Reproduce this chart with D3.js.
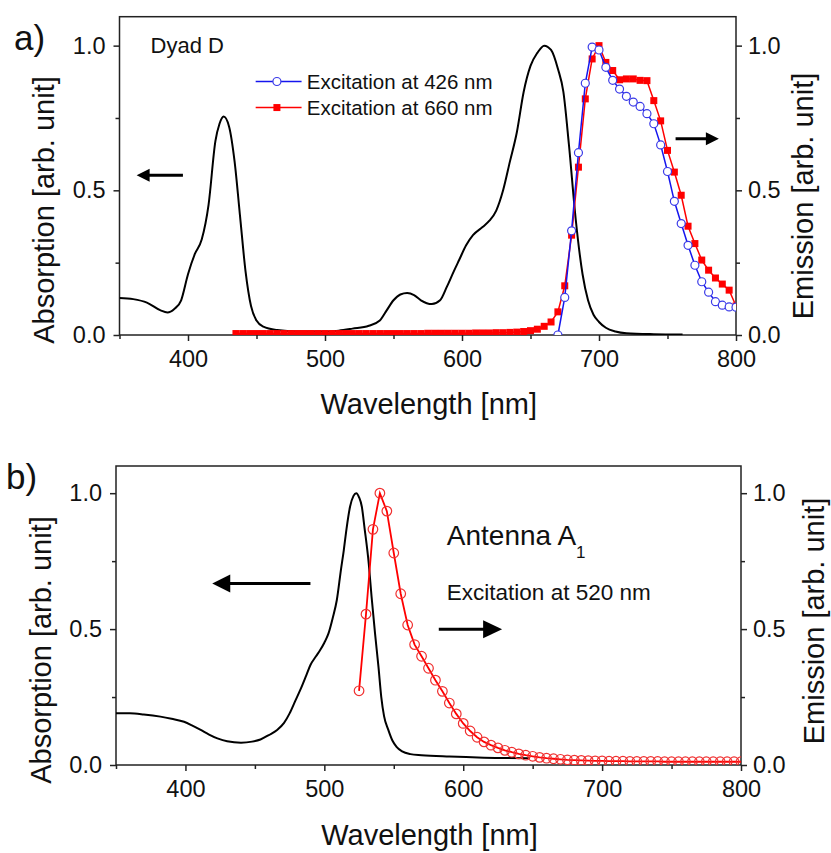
<!DOCTYPE html>
<html>
<head>
<meta charset="utf-8">
<script src="https://cdn.jsdelivr.net/npm/d3@7"></script>
<style>
  body { margin: 0; background: #fff; }
  text { font-family: "Liberation Sans", Arial, sans-serif; fill: #111; }
</style>
</head>
<body>
<script>
// ---- data ----
const xTicks = [400, 500, 600, 700, 800];
const xMinor = [350, 450, 550, 650, 750];
const yTicks = [0.0, 0.5, 1.0];
const yMinor = [0.25, 0.75];

// panel a) Dyad D, absorption
const absDyadWl  = [350,360,370,380,385,390,395,400,405,410,415,420,423,426,430,434,438,442,446,450,455,465,480,500,510,520,532,540,545,550,555,560,565,570,578,584,589,594,598,603,608,615,620,625,630,635,640,645,650,655,660,665,670,674,678,683,688,692,696,700,705,712,720,740,761];
const absDyadVal = [0.128,0.124,0.112,0.085,0.078,0.09,0.12,0.21,0.28,0.33,0.45,0.67,0.73,0.755,0.72,0.6,0.41,0.22,0.1,0.05,0.029,0.017,0.012,0.012,0.015,0.022,0.032,0.05,0.085,0.12,0.14,0.145,0.138,0.12,0.107,0.12,0.167,0.22,0.26,0.31,0.345,0.373,0.395,0.43,0.5,0.6,0.7,0.84,0.93,0.975,1.0,0.985,0.92,0.84,0.66,0.4,0.21,0.12,0.07,0.045,0.025,0.012,0.006,0.003,0.002];

// panel a) emission, excitation at 426 nm (blue, open circles)
const em426Wl  = [670,675,680,685,690,695,700,705,710,715,720,725,730,735,740,745,750,755,760,765,770,775,780,785,790,795,800];
const em426Val = [0.0,0.13,0.36,0.63,0.87,0.995,0.985,0.925,0.88,0.85,0.825,0.805,0.79,0.765,0.73,0.657,0.565,0.462,0.385,0.31,0.241,0.184,0.148,0.115,0.103,0.097,0.096];

// panel a) emission, excitation at 660 nm (red, filled squares)
const em660Wl  = [435,440,445,450,455,460,465,470,475,480,485,490,495,500,505,510,515,520,525,530,535,540,545,550,555,560,565,570,575,580,585,590,595,600,605,610,615,620,625,630,635,640,645,650,655,660,665,670,675,680,685,690,695,700,705,710,715,720,725,730,735,740,745,750,755,760,765,770,775,780,785,790,795,800];
const em660Val = [0.005,0.005,0.005,0.005,0.005,0.005,0.005,0.005,0.005,0.005,0.005,0.005,0.005,0.005,0.005,0.005,0.005,0.005,0.005,0.005,0.005,0.005,0.005,0.005,0.005,0.005,0.005,0.005,0.006,0.006,0.006,0.006,0.006,0.006,0.006,0.007,0.007,0.007,0.008,0.008,0.009,0.01,0.012,0.015,0.02,0.03,0.045,0.08,0.17,0.345,0.58,0.816,0.954,1.0,0.942,0.914,0.882,0.885,0.885,0.88,0.879,0.81,0.74,0.638,0.563,0.483,0.376,0.316,0.259,0.224,0.197,0.176,0.155,0.1];

// panel b) Antenna A1, absorption
const absAntWl  = [350,360,370,382,390,399,405,411,417,423,430,440,448,454,460,466,471,475,479,483,487,490,494,497,500,503,506,509,512,514,516,518.5,521,523,525,527,529,532,534,536.5,539,541,543,546,549,552,556,562,570,590,615,648];
const absAntVal = [0.19,0.19,0.186,0.178,0.17,0.159,0.145,0.129,0.112,0.098,0.087,0.082,0.086,0.094,0.11,0.129,0.155,0.19,0.235,0.28,0.33,0.368,0.4,0.423,0.45,0.484,0.54,0.607,0.72,0.79,0.87,0.95,0.99,1.0,0.985,0.95,0.87,0.74,0.62,0.484,0.36,0.25,0.18,0.13,0.09,0.067,0.05,0.04,0.036,0.031,0.027,0.025];

// panel b) emission, excitation at 520 nm (red, open circles)
const em520Wl  = [525,530,535,540,545,550,555,560,565,570,575,580,585,590,595,600,605,610,615,620,625,630,635,640,645,650,655,660,665,670,675,680,685,690,695,700,705,710,715,720,725,730,735,740,745,750,755,760,765,770,775,780,785,790,795,800];
const em520Val = [0.273,0.555,0.867,1.0,0.934,0.78,0.63,0.515,0.443,0.4,0.356,0.312,0.271,0.228,0.188,0.153,0.125,0.102,0.085,0.073,0.063,0.054,0.047,0.041,0.036,0.032,0.028,0.025,0.023,0.021,0.019,0.018,0.017,0.016,0.015,0.015,0.014,0.014,0.014,0.013,0.013,0.013,0.013,0.013,0.012,0.012,0.012,0.012,0.012,0.012,0.012,0.012,0.012,0.012,0.012,0.012];

const zip = (a, b) => a.map((d, i) => [d, b[i]]);

let width = 831, height = 853;
let svg = d3.select("body").append("svg")
  .attr("width", width)
  .attr("height", height);

// dibuja el marco, ejes y rotulos de un panel
function panel(id, left, right, top, bottom, letter, letterY, absLabelX, absLabelY, emLabelX, emLabelY, xLabelY) {
  let x = d3.scaleLinear().domain([350, 800]).range([left, right]);
  let y = d3.scaleLinear().domain([0, 1.1]).range([bottom, top]);
  let g = svg.append("g");

  g.append("clipPath").attr("id", id)
    .append("rect").attr("x", left).attr("y", top)
    .attr("width", right - left).attr("height", bottom - top);

  let fmtY = d3.format(".1f");
  let axes = [
    [d3.axisBottom(x).tickValues(xTicks).tickSize(6).tickPadding(9).tickFormat(d3.format("d")), `translate(0,${bottom})`],
    [d3.axisBottom(x).tickValues(xMinor).tickSize(4).tickFormat(""), `translate(0,${bottom})`],
    [d3.axisLeft(y).tickValues(yTicks).tickSize(6).tickPadding(8).tickFormat(fmtY), `translate(${left},0)`],
    [d3.axisLeft(y).tickValues(yMinor).tickSize(4).tickFormat(""), `translate(${left},0)`],
    [d3.axisRight(y).tickValues(yTicks).tickSize(6).tickPadding(6).tickFormat(fmtY), `translate(${right},0)`],
    [d3.axisRight(y).tickValues(yMinor).tickSize(4).tickFormat(""), `translate(${right},0)`]
  ];
  axes.forEach(([ax, tr]) => {
    let a = g.append("g").attr("transform", tr).call(ax);
    a.select(".domain").remove();
    a.selectAll("line").attr("stroke", "#222").attr("stroke-width", 1.5);
    a.selectAll("text").attr("font-size", 23.5).attr("font-family", "Liberation Sans, Arial, sans-serif").attr("fill", "#111");
  });

  g.append("rect")
    .attr("x", left).attr("y", top)
    .attr("width", right - left).attr("height", bottom - top)
    .attr("fill", "none").attr("stroke", "#222").attr("stroke-width", 1.5);

  g.append("text").attr("x", letter[1]).attr("y", letterY)
    .attr("font-size", 35).text(letter[0]);

  g.append("text")
    .attr("transform", `translate(${absLabelX},${absLabelY}) rotate(-90)`)
    .attr("text-anchor", "middle").attr("dominant-baseline", "central")
    .attr("font-size", 29).text("Absorption [arb. unit]");
  g.append("text")
    .attr("transform", `translate(${emLabelX},${emLabelY}) rotate(-90)`)
    .attr("text-anchor", "middle").attr("dominant-baseline", "central")
    .attr("font-size", 29).text("Emission [arb. unit]");
  g.append("text")
    .attr("x", (left + right) / 2 + 1).attr("y", xLabelY)
    .attr("text-anchor", "middle")
    .attr("font-size", 29).text("Wavelength [nm]");

  return {x, y, g, clip: `url(#${id})`};
}

function arrow(g, x1, x2, yv, head, half) {
  let dir = Math.sign(x2 - x1);
  g.append("line")
    .attr("x1", x1).attr("x2", x2 - dir * head * 0.8)
    .attr("y1", yv).attr("y2", yv)
    .attr("stroke", "#000").attr("stroke-width", 3);
  g.append("path")
    .attr("d", `M${x2},${yv} L${x2 - dir * head},${yv - half} L${x2 - dir * head},${yv + half} Z`)
    .attr("fill", "#000");
}

let line = (p) => d3.line().x(d => p.x(d[0])).y(d => p.y(d[1]));

// ---- panel a ----
let a = panel("clipA", 119.5, 736, 16.7, 335, ["a)", 14], 50, 44, 210, 803, 196, 414);

a.g.append("path").datum(zip(absDyadWl, absDyadVal))
  .attr("clip-path", a.clip)
  .attr("fill", "none").attr("stroke", "#000").attr("stroke-width", 2)
  .attr("d", line(a).curve(d3.curveMonotoneX));

let d660 = zip(em660Wl, em660Val);
a.g.append("path").datum(d660)
  .attr("fill", "none").attr("stroke", "#ff0000").attr("stroke-width", 1.5)
  .attr("d", line(a));
a.g.append("g").attr("clip-path", a.clip).selectAll("rect").data(d660).join("rect")
  .attr("x", d => a.x(d[0]) - 3.5).attr("y", d => a.y(d[1]) - 3.5)
  .attr("width", 7).attr("height", 7).attr("fill", "#ff0000");

let d426 = zip(em426Wl, em426Val);
a.g.append("path").datum(d426)
  .attr("fill", "none").attr("stroke", "#1515ee").attr("stroke-width", 1.5)
  .attr("d", line(a));
a.g.append("g").attr("clip-path", a.clip).selectAll("circle").data(d426).join("circle")
  .attr("cx", d => a.x(d[0])).attr("cy", d => a.y(d[1])).attr("r", 4)
  .attr("fill", "#fff").attr("stroke", "#3a3ae8").attr("stroke-width", 1.2);

a.g.append("text").attr("x", a.x(372.7)).attr("y", a.y(0.976))
  .attr("font-size", 22).text("Dyad D");

// leyenda
const legendRows = [
  {label: "Excitation at 426 nm", color: "#1515ee", mark: "circle", yv: 0.876},
  {label: "Excitation at 660 nm", color: "#ff0000", mark: "square", yv: 0.786}
];
legendRows.forEach(r => {
  let yy = a.y(r.yv);
  a.g.append("line").attr("x1", a.x(449.4)).attr("x2", a.x(482.9))
    .attr("y1", yy).attr("y2", yy).attr("stroke", r.color).attr("stroke-width", 1.5);
  if (r.mark === "circle") {
    a.g.append("circle").attr("cx", a.x(464.9)).attr("cy", yy).attr("r", 4)
      .attr("fill", "#fff").attr("stroke", "#3a3ae8").attr("stroke-width", 1.2);
  } else {
    a.g.append("rect").attr("x", a.x(464.9) - 3.5).attr("y", yy - 3.5)
      .attr("width", 7).attr("height", 7).attr("fill", r.color);
  }
  a.g.append("text").attr("x", a.x(486.7)).attr("y", yy + 7)
    .attr("font-size", 20.5).text(r.label);
});

arrow(a.g, a.x(396.3), a.x(362.5), a.y(0.552), 13, 6.5);
arrow(a.g, a.x(755.9), a.x(787.5), a.y(0.678), 13, 6.5);

// ---- panel b ----
let b = panel("clipB", 116, 741, 466, 765, ["b)", 6], 489, 41, 650, 814, 621, 845);

b.g.append("path").datum(zip(absAntWl, absAntVal))
  .attr("clip-path", b.clip)
  .attr("fill", "none").attr("stroke", "#000").attr("stroke-width", 2)
  .attr("d", line(b).curve(d3.curveMonotoneX));

let d520 = zip(em520Wl, em520Val);
b.g.append("path").datum(d520)
  .attr("fill", "none").attr("stroke", "#ff0000").attr("stroke-width", 1.8)
  .attr("d", line(b));
b.g.append("g").attr("clip-path", b.clip).selectAll("circle").data(d520).join("circle")
  .attr("cx", d => b.x(d[0])).attr("cy", d => b.y(d[1])).attr("r", 4.8)
  .attr("fill", "none").attr("stroke", "#f03030").attr("stroke-width", 1.2);

let ant = b.g.append("text").attr("x", b.x(588.2)).attr("y", b.y(0.809)).attr("font-size", 28);
ant.append("tspan").text("Antenna A");
ant.append("tspan").attr("dy", 13).attr("font-size", 17).text("1");

b.g.append("text").attr("x", b.x(588.2)).attr("y", b.y(0.607))
  .attr("font-size", 22.5).text("Excitation at 520 nm");

arrow(b.g, b.x(490), b.x(419.3), b.y(0.668), 18, 9);
arrow(b.g, b.x(582.4), b.x(628), b.y(0.499), 19, 9);
</script>
</body>
</html>
